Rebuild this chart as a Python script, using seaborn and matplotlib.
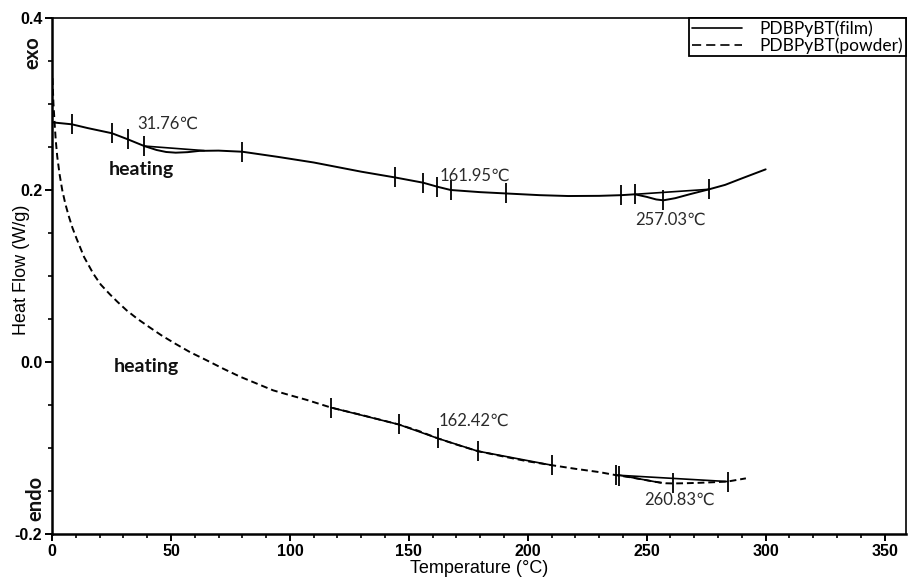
import numpy as np
import pandas as pd
import matplotlib
matplotlib.use("Agg")
import matplotlib.pyplot as plt
from matplotlib.lines import Line2D
import seaborn as sns

# ---- DSC traces (temperature in °C, heat flow in W/g) ----
film_temp = [0, 8.3, 15, 25.2, 31.8, 38.8, 44, 48, 52, 57, 62, 70, 80, 95, 110,
             130, 144, 156, 162, 167.6, 180, 190.7, 205, 217, 230, 239.4, 245,
             250, 254, 257, 262, 268, 276.2, 283, 290, 300]
film_flow = [0.2787, 0.2764, 0.272, 0.266, 0.259, 0.2511, 0.2465, 0.2442, 0.2434,
             0.2440, 0.2455, 0.2458, 0.2445, 0.2385, 0.232, 0.2213, 0.2147, 0.2085,
             0.2038, 0.200, 0.1975, 0.196, 0.194, 0.193, 0.1932, 0.194, 0.195,
             0.192, 0.189, 0.188, 0.1905, 0.195, 0.2008, 0.206, 0.2135, 0.224]

powder_temp = [0.2, 0.6, 1.1, 1.6, 2.2, 3.2, 4.3, 5.6, 7.0, 8.6, 10.4, 13.5,
               17.4, 20.5, 24.4, 27.5, 31.4, 36, 41.2, 46, 52, 58, 65, 72, 79,
               86, 93, 100, 107, 117.3, 130, 145.7, 154, 162.3, 170, 178.9, 190,
               200, 210.1, 220, 230, 236.9, 243, 249, 254, 258, 261, 266, 272,
               278, 284, 291.7]
powder_flow = [0.33, 0.301, 0.2775, 0.257, 0.239, 0.218, 0.200, 0.184, 0.170,
               0.156, 0.143, 0.122, 0.1025, 0.090, 0.0785, 0.070, 0.060, 0.050,
               0.040, 0.031, 0.021, 0.0115, 0.002, -0.0078, -0.017, -0.025,
               -0.033, -0.0386, -0.044, -0.053, -0.0615, -0.0726, -0.080,
               -0.0889, -0.096, -0.1036, -0.1100, -0.1155, -0.1200, -0.1242,
               -0.128, -0.1315, -0.1340, -0.1370, -0.1395, -0.1410, -0.1412,
               -0.1410, -0.1405, -0.1398, -0.1390, -0.1353]

# analysis cursor temperatures on each trace
film_marks = [8.3, 25.2, 31.8, 38.8, 80, 144, 156, 162, 167.6, 190.7, 239.4,
              245, 257, 276.2]
powder_marks = [117.3, 145.7, 162.3, 178.9, 210.1, 236.9, 238.2, 261, 284]

# construction lines (tangents / peak baselines)
film_base_temp = [[38.8, 64.0], [245, 276.2]]
film_base_flow = [[0.2511, 0.2458], [0.195, 0.2008]]
powder_tan_temp = [[117.3, 145.7, 162.3, 178.9, 210.1], [236.9, 284], [238.2, 256]]
powder_tan_flow = [[-0.053, -0.0726, -0.0889, -0.1036, -0.120],
                   [-0.1315, -0.139], [-0.1315, -0.1405]]

legend_labels = ["PDBPyBT(film)", "PDBPyBT(powder)"]
transition_labels = ["31.76\u2103", "161.95\u2103", "257.03\u2103",
                     "162.42\u2103", "260.83\u2103"]

sns.set_style("ticks")
plt.rcParams["font.family"] = ["Liberation Sans", "DejaVu Sans"]
plt.rcParams["text.color"] = "black"
plt.rcParams["axes.labelcolor"] = "black"
ann_family = ["Lato", "DejaVu Sans"]

fig = plt.figure(figsize=(9.12, 5.79), dpi=100)
ax = fig.add_axes([52 / 912, 1 - 534 / 579, (906 - 52) / 912, (534 - 18) / 579])

lw = 1.4
film_df = pd.DataFrame({"T": film_temp, "HF": film_flow})
powder_df = pd.DataFrame({"T": powder_temp, "HF": powder_flow})
sns.lineplot(data=film_df, x="T", y="HF", ax=ax, color="black", lw=lw,
             sort=False, estimator=None)
sns.lineplot(data=powder_df, x="T", y="HF", ax=ax, color="black", lw=lw,
             sort=False, estimator=None)
ax.lines[-1].set_dashes((3.5, 2.0))

for tt, ff in zip(film_base_temp, film_base_flow):
    ax.plot(tt, ff, color="black", lw=1.2)
for tt, ff in zip(powder_tan_temp, powder_tan_flow):
    ax.plot(tt, ff, color="black", lw=1.2)

# cursor marks sit on the traces
ax.plot(film_marks, np.interp(film_marks, film_temp, film_flow), ls="none",
        marker="|", ms=14, mew=1.3, color="black")
ax.plot(powder_marks, np.interp(powder_marks, powder_temp, powder_flow), ls="none",
        marker="|", ms=14, mew=1.3, color="black")

ax.set_xlim(0, 359)
ax.set_ylim(-0.2, 0.4)
ax.set_xticks([0, 50, 100, 150, 200, 250, 300, 350])
ax.set_xticks(np.arange(0, 360, 10), minor=True)
ax.set_yticks([-0.2, 0.0, 0.2, 0.4])
ax.set_yticks(np.arange(-0.2, 0.401, 0.05), minor=True)
ax.set_yticklabels(["-0.2", "0.0", "0.2", "0.4"])
ax.tick_params(axis="both", which="major", direction="out", length=5, width=1.4,
               labelsize=11.5, pad=2, colors="black")
ax.tick_params(axis="both", which="minor", direction="out", length=3, width=1.2,
               colors="black")
for lab in ax.get_xticklabels() + ax.get_yticklabels():
    lab.set_fontweight("bold")

for side in ["left", "bottom"]:
    ax.spines[side].set_linewidth(1.8)
for side in ["top", "right"]:
    ax.spines[side].set_linewidth(1.2)
for sp in ax.spines.values():
    sp.set_color("black")

ax.set_xlabel("Temperature (\u00b0C)", fontsize=13, color="black")
ax.set_ylabel("Heat Flow (W/g)", fontsize=13, color="black")
ax.xaxis.set_label_coords(0.5, -0.05)
ax.yaxis.set_label_coords(-0.026, 0.512)

# transition temperatures
ann_pos = [(48.7, 0.2767), (177.7, 0.2163), (260, 0.165), (177.3, -0.0686),
           (263.9, -0.1605)]
for txt, (x, y) in zip(transition_labels, ann_pos):
    ax.text(x, y, txt, ha="center", va="center", fontsize=12, color="#2a2a2a",
            family=ann_family)
for x, y in [(37.4, 0.2233), (39.5, -0.0047)]:
    ax.text(x, y, "heating", ha="center", va="center", fontsize=14,
            fontweight="bold", color="#111111", family=ann_family)

fig.text(32 / 912, 1 - 53 / 579, "exo", rotation=90, ha="center", va="center",
         fontsize=14.5, fontweight="bold", color="#111111", family=ann_family)
fig.text(35 / 912, 1 - 498 / 579, "endo", rotation=90, ha="center", va="center",
         fontsize=14.5, fontweight="bold", color="#111111", family=ann_family)

handles = [Line2D([], [], color="black", lw=1.2),
           Line2D([], [], color="black", lw=1.2, dashes=(5.5, 3.0))]
leg = ax.legend(handles, legend_labels, loc="upper right", borderaxespad=0,
                frameon=True, fancybox=False, framealpha=1, edgecolor="black",
                handlelength=2.9, handletextpad=1.0, labelspacing=0.0,
                borderpad=0.15, prop={"family": ann_family, "size": 12.5})
leg.get_frame().set_linewidth(1.3)
for t in leg.get_texts():
    t.set_color("black")

fig.savefig("out.png", dpi=100, facecolor="white")
